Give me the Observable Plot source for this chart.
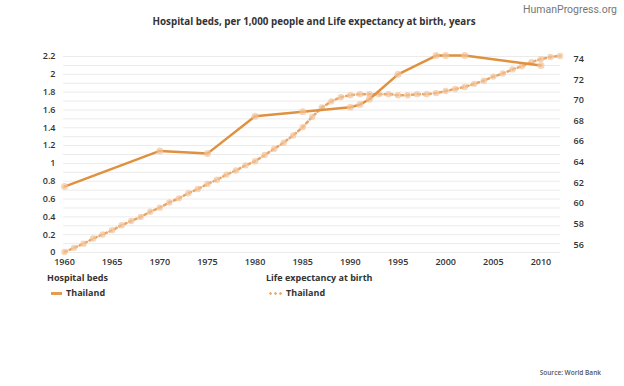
<!DOCTYPE html>
<html>
<head>
<meta charset="utf-8">
<script src="https://cdn.jsdelivr.net/npm/d3@7"></script>
<script src="https://cdn.jsdelivr.net/npm/@observablehq/plot@0.6"></script>
<style>
  html, body { margin: 0; padding: 0; background: #fff; }
  #wrap { position: relative; width: 624px; height: 386px; font-family: "Open Sans", sans-serif; overflow: hidden; }
  #wrap svg { position: absolute; left: 0; top: 0; }
  .t { position: absolute; white-space: nowrap; }
  #title { left: 0; width: 628px; top: 15px; text-align: center; font-size: 9.8px; font-weight: 700; color: #333; }
  #brand { right: 7px; top: 3px; font-size: 10.5px; color: #777; font-family: Roboto, sans-serif; }
  #source { right: 23px; top: 368px; font-size: 6.5px; color: #555; font-weight: 600; }
  .lh { font-size: 9px; font-weight: 700; color: #333; }
  .li { font-size: 9px; font-weight: 700; color: #333; }
</style>
</head>
<body>
<div id="wrap">
  <div class="t" id="brand">HumanProgress.org</div>
  <div class="t" id="title">Hospital beds, per 1,000 people and Life expectancy at birth, years</div>
  <div class="t lh" style="left:47px; top:271px;">Hospital beds</div>
  <div class="t li" style="left:51px; top:286px;"><span style="display:inline-block;width:11px;height:2.5px;background:#E89A52;vertical-align:middle;margin-right:4px;"></span>Thailand</div>
  <div class="t lh" style="left:266px; top:271px;">Life expectancy at birth</div>
  <div class="t li" style="left:268px; top:286px;"><span style="display:inline-block;width:15px;height:3px;vertical-align:middle;margin-right:3px;background:radial-gradient(circle, #EBB07A 1.2px, transparent 1.5px) 0 0/5px 3px repeat-x;"></span>Thailand</div>
  <div class="t" id="source">Source: World Bank</div>
</div>
<script>
// Hospital beds, per 1,000 people (Thailand)
const bedYears = [1960, 1970, 1975, 1980, 1985, 1990, 1991, 1992, 1995, 1999, 2000, 2002, 2010];
const bedValues = [0.74, 1.14, 1.11, 1.53, 1.58, 1.63, 1.66, 1.72, 2.0, 2.21, 2.21, 2.21, 2.10];

// Life expectancy at birth, years (Thailand)
const lifeYears = [1960,1961,1962,1963,1964,1965,1966,1967,1968,1969,1970,1971,1972,1973,1974,1975,1976,1977,1978,1979,1980,1981,1982,1983,1984,1985,1986,1987,1988,1989,1990,1991,1992,1993,1994,1995,1996,1997,1998,1999,2000,2001,2002,2003,2004,2005,2006,2007,2008,2009,2010,2011,2012];
const lifeValues = [55.3,55.7,56.1,56.6,57.0,57.4,57.9,58.3,58.7,59.2,59.6,60.1,60.5,61.0,61.4,61.9,62.3,62.8,63.2,63.7,64.1,64.7,65.3,65.9,66.6,67.4,68.4,69.3,69.9,70.3,70.5,70.6,70.6,70.6,70.6,70.5,70.5,70.6,70.6,70.7,70.9,71.1,71.3,71.6,71.9,72.3,72.6,73.0,73.3,73.7,74.0,74.2,74.3];

// Axis ticks
const xTicks = [1960, 1965, 1970, 1975, 1980, 1985, 1990, 1995, 2000, 2005, 2010];
const leftTicks = [0, 0.2, 0.4, 0.6, 0.8, 1, 1.2, 1.4, 1.6, 1.8, 2, 2.2];
const gridTicks = d3.range(0, 23).map(i => i / 10);
const rightTicks = [56, 58, 60, 62, 64, 66, 68, 70, 72, 74];
const leftDomain = [0, 2.2];
const rightDomain = [55.25, 74.25];

const toLeft = d3.scaleLinear().domain(rightDomain).range(leftDomain);
const fromLeft = toLeft.invert;

const beds = bedYears.map((y, i) => ({year: y, value: bedValues[i]}));
const life = lifeYears.map((y, i) => ({year: y, value: toLeft(lifeValues[i])}));

const lineColor = "#E0913F";
const markColor = "#F2C39A";

const chart = Plot.plot({
  width: 624,
  height: 386,
  marginLeft: 64,
  marginRight: 64,
  marginTop: 56,
  marginBottom: 134,
  style: {fontFamily: "Open Sans, sans-serif", fontSize: "9px", fontWeight: 600, color: "#333", background: "transparent"},
  x: {domain: [1960, 2012.05]},
  y: {domain: leftDomain},
  marks: [
    Plot.ruleY(gridTicks, {x1: 1959.9, x2: 2012.05, stroke: "#ebebeb", strokeWidth: 1}),
    Plot.axisX(xTicks, {tickSize: 0, tickPadding: 6, tickFormat: d => String(d), label: null, fontWeight: 600, fill: "#333"}),
    Plot.axisY(leftTicks, {anchor: "left", tickSize: 0, tickPadding: 9, tickFormat: d => String(+d.toFixed(1)), label: null, fill: "#333"}),
    Plot.axisY(rightTicks.map(toLeft), {anchor: "right", tickSize: 0, tickPadding: 13, tickFormat: d => String(Math.round(fromLeft(d))), label: null, fill: "#333"}),
    Plot.line(life, {x: "year", y: "value", stroke: "#E8A566", strokeWidth: 2.5, strokeDasharray: "2.5,3"}),
    Plot.dot(life, {x: "year", y: "value", r: 3.2, fill: markColor, fillOpacity: 0.7, stroke: "none"}),
    Plot.line(beds, {x: "year", y: "value", stroke: lineColor, strokeWidth: 2.5}),
    Plot.dot(beds, {x: "year", y: "value", r: 3.5, fill: markColor, fillOpacity: 0.7, stroke: "none"})
  ]
});
document.getElementById("wrap").prepend(chart);
</script>
</body>
</html>
